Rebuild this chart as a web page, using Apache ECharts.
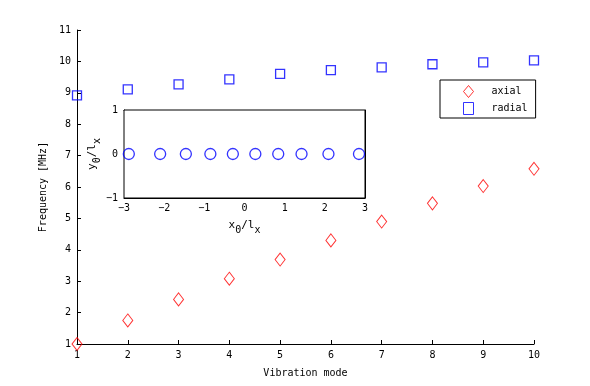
<!DOCTYPE html>
<html lang="en">
<head>
    <meta charset="UTF-8">
    <title>vibration modes</title>
    <script src="https://cdn.jsdelivr.net/npm/echarts@6/dist/echarts.min.js"></script>
    <style>
        html, body { margin: 0; padding: 0; background: #fff; }
    </style>
</head>
<body>
<div id="main" style="width: 590px;height: 386px"></div>

<script>
    // main plot: frequency per vibration mode
    var modes = [1, 2, 3, 4, 5, 6, 7, 8, 9, 10];
    var axialFreq = [1.00, 1.75, 2.42, 3.08, 3.69, 4.30, 4.90, 5.48, 6.03, 6.58];
    var radialFreq = [8.92, 9.11, 9.27, 9.43, 9.60, 9.72, 9.81, 9.91, 9.97, 10.03];

    // inset: equilibrium positions
    var x0 = [-2.88, -2.10, -1.46, -0.85, -0.29, 0.27, 0.84, 1.42, 2.09, 2.85];
    var y0 = [0, 0, 0, 0, 0, 0, 0, 0, 0, 0];

    var font = 'DejaVu Sans Mono';

    function pairs(a, b) {
        var out = [];
        for (var i = 0; i < a.length; i++) {
            out.push([a[i], b[i]]);
        }
        return out;
    }

    function minus(v) {
        return String(v).replace('-', '\u2212');
    }

    var tickIn = { show: true, inside: true, length: 4, lineStyle: { color: '#000' } };
    var lineBlack = { show: true, onZero: false, lineStyle: { color: '#000', width: 1 } };
    var labelStyle = { color: '#000', fontFamily: font, fontSize: 10, formatter: minus };
    var subRich = {
        n: { fontFamily: font, fontSize: 11, color: '#000' },
        s: { fontFamily: font, fontSize: 10, color: '#000', padding: [9, 0, 0, 0] }
    };

    var myChart = echarts.init(document.getElementById('main'));

    var option = {
        backgroundColor: '#fff',
        animation: false,
        grid: [
            { left: 77, right: 56, top: 30, bottom: 42 },
            { left: 124, width: 241, top: 110, height: 88, show: true,
              backgroundColor: '#fff', borderColor: '#000', borderWidth: 1, z: 5 }
        ],
        legend: {
            data: ['axial', 'radial'],
            orient: 'vertical',
            left: 440,
            top: 80,
            padding: [3, 8, 1, 21],
            itemGap: 0,
            itemWidth: 10,
            itemHeight: 12,
            borderColor: '#000',
            borderWidth: 1,
            borderRadius: 0,
            backgroundColor: '#fff',
            itemStyle: { borderWidth: 1 },
            textStyle: { fontFamily: font, fontSize: 10, color: '#000', padding: [0, 0, 0, 13], lineHeight: 12 }
        },
        xAxis: [
            {
                gridIndex: 0, type: 'value', min: 1, max: 10, interval: 1,
                name: 'Vibration mode', nameLocation: 'middle', nameGap: 24,
                nameTextStyle: { fontFamily: font, fontSize: 10, color: '#000' },
                axisLine: lineBlack, axisTick: tickIn, splitLine: { show: false },
                axisLabel: Object.assign({ margin: 6 }, labelStyle)
            },
            {
                gridIndex: 1, type: 'value', min: -3, max: 3, interval: 1,
                name: '{n|x}{s|0}{n|/l}{s|x}', nameLocation: 'middle', nameGap: 18,
                nameTextStyle: { rich: subRich },
                axisLine: lineBlack, axisTick: tickIn, splitLine: { show: false },
                axisLabel: Object.assign({ margin: 5 }, labelStyle)
            },
            {
                gridIndex: 1, type: 'value', min: -3, max: 3, interval: 1, position: 'top',
                axisLine: lineBlack, axisTick: tickIn, splitLine: { show: false },
                axisLabel: { show: false }
            }
        ],
        yAxis: [
            {
                gridIndex: 0, type: 'value', min: 1, max: 11, interval: 1,
                name: 'Frequency [MHz]', nameLocation: 'middle', nameGap: 23,
                nameTextStyle: { fontFamily: font, fontSize: 10, color: '#000' },
                axisLine: lineBlack, axisTick: tickIn, splitLine: { show: false },
                axisLabel: Object.assign({ margin: 6 }, labelStyle)
            },
            {
                gridIndex: 1, type: 'value', min: -1, max: 1, interval: 1,
                name: '{n|y}{s|0}{n|/l}{s|x}', nameLocation: 'middle', nameGap: 22,
                nameTextStyle: { rich: subRich },
                axisLine: lineBlack, axisTick: tickIn, splitLine: { show: false },
                axisLabel: Object.assign({ margin: 6 }, labelStyle)
            },
            {
                gridIndex: 1, type: 'value', min: -1, max: 1, interval: 1, position: 'right',
                axisLine: lineBlack, axisTick: tickIn, splitLine: { show: false },
                axisLabel: { show: false }
            }
        ],
        series: [
            {
                name: 'axial',
                type: 'scatter',
                xAxisIndex: 0, yAxisIndex: 0,
                symbol: 'diamond',
                symbolSize: [10, 13],
                clip: false,
                itemStyle: { color: 'none', borderColor: '#ff0000', borderWidth: 1 },
                data: pairs(modes, axialFreq)
            },
            {
                name: 'radial',
                type: 'scatter',
                xAxisIndex: 0, yAxisIndex: 0,
                symbol: 'rect',
                symbolSize: 9,
                clip: false,
                itemStyle: { color: 'none', borderColor: '#0000ff', borderWidth: 1.3 },
                data: pairs(modes, radialFreq)
            },
            {
                name: 'positions',
                type: 'scatter',
                xAxisIndex: 1, yAxisIndex: 1,
                symbol: 'circle',
                symbolSize: 11,
                clip: false,
                z: 10,
                itemStyle: { color: 'none', borderColor: '#0000ff', borderWidth: 1.3 },
                data: pairs(x0, y0)
            }
        ]
    };

    myChart.setOption(option);
</script>
</body>
</html>
